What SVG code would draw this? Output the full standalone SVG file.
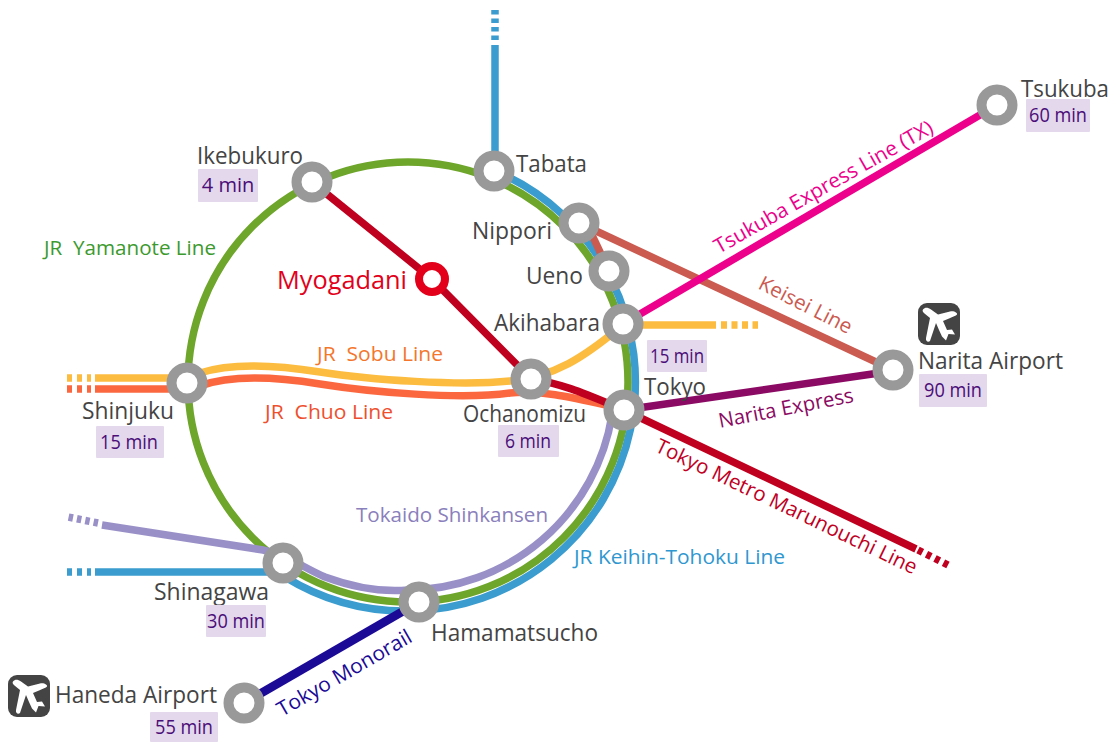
<svg xmlns="http://www.w3.org/2000/svg" width="1115" height="742" viewBox="0 0 1115 742">
<style>
text{font-family:"Open Sans","Noto Sans",sans-serif}
.l{fill:none;stroke-width:7.500}
.st{fill:#fff;stroke:#999;stroke-width:10}
.n{font-size:23.500px;fill:#444}
.chip{fill:#e3d8ec}
.t{font-size:20px;fill:#4b0d78;text-anchor:middle}
.ln{font-size:20.500px}
.icon{fill:#444}
.plane{fill:#fff}
.y{stroke:#fcbc3f}.o{stroke:#fb6840}.b{stroke:#3a9ccf}.g{stroke:#6ea52b}.v{stroke:#9a90c8}.r{stroke:#c0001f}
</style>
<rect width="1115" height="742" fill="#fff"/>
<defs>
<path id="pl" d="M-16-14.500C-14-17-11-16.500-8-14.500L-1-9.500 11-12.500C15-13.500 19-11 18-9.500 17-8 14-7.500 10-5.500L4-3 8 6 13 5.500 16 10.500 9.500 10 7 16.500 3 12.500 0 6-3-1-9 17C-11 19-13.500 17-13 14L-9-6-14.500-10.500C-16-12-17-13-16-14.500Z"/>
</defs>
<g id="connectors">
<path class="l b" d="M495 155V45"/>
<path class="l b" d="M495 40V10" stroke-dasharray="4.500 4"/>
<circle class="l g" cx="408" cy="382" r="220"/>
<path class="l b" d="M500 173A229 229 0 0 1 408 611A229 229 0 0 1 285 577"/>
<path class="l v" d="M102 525L263 550C290 556 300 566 325 577C355 588 385 592 408 590A208 208 0 0 0 612 415"/>
<path class="l v" d="M98 523L68 517" stroke-dasharray="4.500 4"/>
<path class="l b" d="M95 572H275"/>
<path class="l b" d="M67 572H91" stroke-dasharray="5 5"/>
<path class="l y" d="M95 378H180"/>
<path class="l y" d="M67 378H91" stroke-dasharray="5 5"/>
<path class="l o" d="M95 389H180"/>
<path class="l o" d="M67 389H91" stroke-dasharray="5 5"/>
<path class="l y" d="M200 373C230 363 270 364 320 372S460 386 510 381C555 377 585 356 618 329"/>
<path class="l o" d="M200 386C230 375 270 376 320 384S460 400 510 393C540 390 570 397 610 406"/>
<path class="l y" d="M640 325H716"/>
<path class="l y" d="M721 325H758" stroke-dasharray="6 4.500"/>
<path class="l r" d="M312 182L432 279L531 379C565 384 590 396 624 410L916 549"/>
<path class="l r" d="M918 550L948 565" stroke-dasharray="5 4.500"/>
<path class="l" stroke="#cb5a50" d="M579 223L893 370"/>
<path class="l" stroke="#cb5a50" d="M592 235L609 271"/>
<path class="l" stroke="#8b0a63" d="M624 410L893 371"/>
<path class="l" stroke="#ec008c" d="M623 324L997 105"/>
<path class="l" stroke="#1b0a96" style="stroke-width:8.500" d="M419 602L244 703"/>
</g>
<g id="line-labels" class="ln">
<text x="44" y="255" fill="#3c9a2e" textLength="172" lengthAdjust="spacingAndGlyphs" xml:space="preserve">JR  Yamanote Line</text>
<text x="317" y="361" fill="#f4762c" textLength="126" lengthAdjust="spacingAndGlyphs" xml:space="preserve">JR  Sobu Line</text>
<text x="265" y="419" fill="#ee4f2e" textLength="128" lengthAdjust="spacingAndGlyphs" xml:space="preserve">JR  Chuo Line</text>
<text x="356" y="522" fill="#8a80bc" textLength="192" lengthAdjust="spacingAndGlyphs">Tokaido Shinkansen</text>
<text x="574" y="564" fill="#2f97d0" textLength="211" lengthAdjust="spacingAndGlyphs">JR Keihin-Tohoku Line</text>
<text transform="translate(719 254) rotate(-29.500)" fill="#ec008c" textLength="248" lengthAdjust="spacingAndGlyphs">Tsukuba Express Line (TX)</text>
<text transform="translate(757 288) rotate(27)" fill="#cb5a50" textLength="102" lengthAdjust="spacingAndGlyphs">Keisei Line</text>
<text transform="translate(720 428) rotate(-11)" fill="#8b0a63" textLength="137" lengthAdjust="spacingAndGlyphs">Narita Express</text>
<text transform="translate(654 451) rotate(25.500)" fill="#c0001f" textLength="287" lengthAdjust="spacingAndGlyphs">Tokyo Metro Marunouchi Line</text>
<text transform="translate(282 717) rotate(-30)" fill="#1b0a96" textLength="152" lengthAdjust="spacingAndGlyphs">Tokyo Monorail</text>
</g>
<g id="ikebukuro"><circle class="st" cx="312" cy="182" r="15.500"/><text class="n" x="197" y="164" textLength="106" lengthAdjust="spacingAndGlyphs">Ikebukuro</text><rect class="chip" x="198" y="169" width="60" height="33" rx="1"/><text class="t" x="228" y="192">4 min</text></g>
<g id="tabata"><circle class="st" cx="494" cy="171" r="15.500"/><text class="n" x="516" y="172" textLength="71" lengthAdjust="spacingAndGlyphs">Tabata</text></g>
<g id="nippori"><circle class="st" cx="579" cy="223" r="15.500"/><text class="n" x="472" y="239" textLength="80" lengthAdjust="spacingAndGlyphs">Nippori</text></g>
<g id="ueno"><circle class="st" cx="609" cy="271" r="15.500"/><text class="n" x="526" y="284" textLength="57" lengthAdjust="spacingAndGlyphs">Ueno</text></g>
<g id="akihabara"><circle class="st" cx="623" cy="324" r="15.500"/><text class="n" x="494" y="331" textLength="106" lengthAdjust="spacingAndGlyphs">Akihabara</text><rect class="chip" x="647" y="340" width="60" height="32" rx="1"/><text class="t" x="677" y="363" textLength="54" lengthAdjust="spacingAndGlyphs">15 min</text></g>
<g id="ochanomizu"><circle class="st" cx="531" cy="379" r="15.500"/><text class="n" x="463" y="422" textLength="123" lengthAdjust="spacingAndGlyphs">Ochanomizu</text><rect class="chip" x="498" y="425" width="61" height="32" rx="1"/><text class="t" x="528" y="448" textLength="46" lengthAdjust="spacingAndGlyphs">6 min</text></g>
<g id="tokyo"><circle class="st" cx="624" cy="410" r="15.500"/><text class="n" x="644" y="395" textLength="62" lengthAdjust="spacingAndGlyphs">Tokyo</text></g>
<g id="shinjuku"><circle class="st" cx="187" cy="383" r="15.500"/><text class="n" x="82" y="419" textLength="92" lengthAdjust="spacingAndGlyphs">Shinjuku</text><rect class="chip" x="96" y="426" width="68" height="32" rx="1"/><text class="t" x="129" y="449" textLength="58" lengthAdjust="spacingAndGlyphs">15 min</text></g>
<g id="shinagawa"><circle class="st" cx="283" cy="563" r="15.500"/><text class="n" x="154" y="600" textLength="115" lengthAdjust="spacingAndGlyphs">Shinagawa</text><rect class="chip" x="206" y="605" width="60" height="32" rx="1"/><text class="t" x="236" y="628" textLength="58" lengthAdjust="spacingAndGlyphs">30 min</text></g>
<g id="hamamatsucho"><circle class="st" cx="419" cy="602" r="15.500"/><text class="n" x="431" y="641" textLength="167" lengthAdjust="spacingAndGlyphs">Hamamatsucho</text></g>
<g id="haneda-airport"><circle class="st" cx="244" cy="703" r="15.500"/><rect class="icon" x="8" y="675" width="42" height="42" rx="9"/><use href="#pl" class="plane" transform="translate(29 696)"/><text class="n" x="55" y="703" textLength="162" lengthAdjust="spacingAndGlyphs">Haneda Airport</text><rect class="chip" x="150" y="712" width="68" height="30" rx="1"/><text class="t" x="184" y="734" textLength="58" lengthAdjust="spacingAndGlyphs">55 min</text></g>
<g id="narita-airport"><circle class="st" cx="893" cy="370" r="15.500"/><rect class="icon" x="918" y="303" width="42" height="42" rx="9"/><use href="#pl" class="plane" transform="translate(939 324)"/><text class="n" x="918" y="369" textLength="145" lengthAdjust="spacingAndGlyphs">Narita Airport</text><rect class="chip" x="919" y="374" width="68" height="33" rx="1"/><text class="t" x="953" y="397" textLength="58" lengthAdjust="spacingAndGlyphs">90 min</text></g>
<g id="tsukuba"><circle class="st" cx="997" cy="105" r="15.500"/><text class="n" x="1021" y="97" textLength="88" lengthAdjust="spacingAndGlyphs">Tsukuba</text><rect class="chip" x="1026" y="99" width="64" height="33" rx="1"/><text class="t" x="1058" y="122" textLength="58" lengthAdjust="spacingAndGlyphs">60 min</text></g>
<g id="myogadani"><circle fill="#fff" stroke="#e2001a" stroke-width="8" cx="432" cy="279" r="13"/><text x="277" y="289" font-size="25.500" fill="#e2001a" textLength="130" lengthAdjust="spacingAndGlyphs">Myogadani</text></g>
</svg>
